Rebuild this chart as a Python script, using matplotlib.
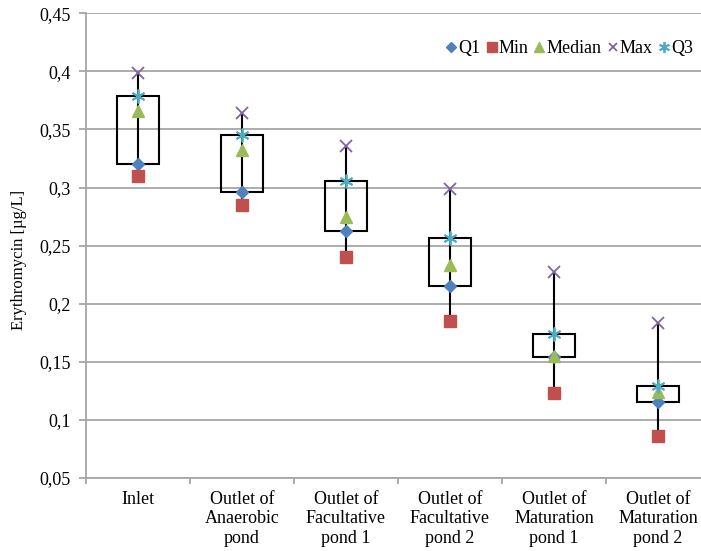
import matplotlib.pyplot as plt
import numpy as np

plt.rcParams['font.family'] = ['Liberation Serif', 'DejaVu Serif']

categories = ['Inlet', 'Outlet of\nAnaerobic\npond', 'Outlet of\nFacultative\npond 1',
              'Outlet of\nFacultative\npond 2', 'Outlet of\nMaturation\npond 1',
              'Outlet of\nMaturation\npond 2']
q1 = [0.320, 0.296, 0.263, 0.215, 0.154, 0.115]
vmin = [0.310, 0.285, 0.240, 0.185, 0.123, 0.086]
median = [0.366, 0.332, 0.275, 0.233, 0.155, 0.124]
vmax = [0.399, 0.364, 0.336, 0.299, 0.227, 0.183]
q3 = [0.379, 0.345, 0.306, 0.257, 0.174, 0.129]

fig = plt.figure(figsize=(7.01, 5.51), dpi=100)
ax = fig.add_axes([86/701, 1-478/551, 624/701, (478-13.3)/551])

x = np.arange(len(categories))
box_w = 0.4

# whiskers min -> max
ax.vlines(x, vmin, vmax, color='black', lw=1.5, zorder=2)
# boxes q1 -> q3
for i in range(len(x)):
    ax.add_patch(plt.Rectangle((x[i]-box_w/2, q1[i]), box_w, q3[i]-q1[i],
                               facecolor='none', edgecolor='black', lw=1.5, zorder=3))

ax.plot(x, q1, 'D', color='#4F81BD', ms=6.5, ls='none', label='Q1', zorder=5)
ax.plot(x, vmin, 's', color='#C0504D', ms=9, ls='none', label='Min', zorder=5)
ax.plot(x, median, '^', color='#9BBB59', ms=9, ls='none', label='Median', zorder=5)
ax.plot(x, vmax, 'x', color='#8064A2', ms=8, mew=1.3, ls='none', label='Max', zorder=5)
ax.plot(x, q3, marker=(6, 2, 0), color='#4BACC6', ms=10, mew=1.3, ls='none', label='Q3', zorder=5)

ax.set_xlim(-0.5, len(categories)-0.5)
ax.set_ylim(0.05, 0.45)
yt = np.arange(0.05, 0.451, 0.05)
ax.set_yticks(yt)
ax.set_yticklabels([('%g' % round(v, 2)).replace('.', ',') for v in yt], fontsize=13)
ax.yaxis.grid(True, color='#A6A6A6', lw=1.3)
ax.set_axisbelow(True)

ax.set_xticks(x)
ax.set_xticklabels(categories, fontsize=13, linespacing=1.2)
ax.tick_params(axis='x', length=0, pad=9)
ax.set_xticks(np.arange(-0.5, len(categories), 1), minor=True)
ax.tick_params(axis='x', which='minor', length=4, color='#A6A6A6', width=1.3)
ax.tick_params(axis='y', length=5, color='#A6A6A6', width=1.3, pad=6)

for s in ['top', 'right']:
    ax.spines[s].set_visible(False)
for s in ['left', 'bottom']:
    ax.spines[s].set_color('#A6A6A6')
    ax.spines[s].set_linewidth(1.3)

ax.set_ylabel('Erythromycin [µg/L]', fontsize=12)
ax.yaxis.set_label_coords(-0.095, 0.47)

ax.legend(loc='upper right', bbox_to_anchor=(614/624, 0.958), ncol=5, frameon=False,
          fontsize=13, handlelength=0.6, handletextpad=0.1, columnspacing=0.3,
          borderaxespad=0, markerscale=0.8)

fig.savefig('out.png', dpi=100)
